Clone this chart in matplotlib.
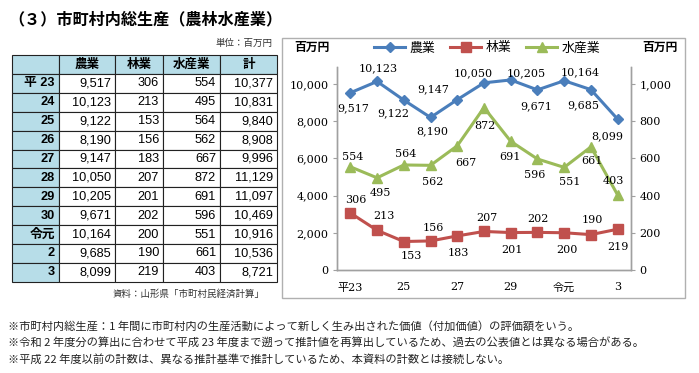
import matplotlib.pyplot as plt
from matplotlib.patches import Rectangle

plt.rcParams['font.family'] = ['Noto Sans CJK JP', 'DejaVu Sans']

# Data
years = ["平 23", "24", "25", "26", "27", "28", "29", "30", "令元", "2", "3"]
x_labels = ["平23", "", "25", "", "27", "", "29", "", "令元", "", "3"]
agri = [9517, 10123, 9122, 8190, 9147, 10050, 10205, 9671, 10164, 9685, 8099]
forest = [306, 213, 153, 156, 183, 207, 201, 202, 200, 190, 219]
fish = [554, 495, 564, 562, 667, 872, 691, 596, 551, 661, 403]
total = [10377, 10831, 9840, 8908, 9996, 11129, 11097, 10469, 10916, 10536, 8721]
headers = ["", "農業", "林業", "水産業", "計"]

# label offsets in pixels (dx, dy up)
agri_off = [(3, -15), (1, 13), (-11, -13), (2, -14), (-24, 10), (-11, 10),
            (15, 7), (-1, -16), (16, 8), (-8, -16), (-10, -17)]
forest_off = [(5, 13), (7, 14), (8, -14), (3, 13), (1, -17), (3, 13),
              (1, -17), (0, 13), (3, -17), (1, 15), (0, -18)]
fish_off = [(2, 10), (3, -15), (2, 11), (2, -17), (9, -17), (1, -18),
            (-1, -16), (-3, -16), (6, -15), (1, -14), (-4, 14)]

W, H = 699, 373
fig = plt.figure(figsize=(W / 100, H / 100), dpi=100)

# background axes in pixel coordinates
bg = fig.add_axes([0, 0, 1, 1])
bg.set_xlim(0, W)
bg.set_ylim(H, 0)
bg.axis("off")

bg.text(8, 19, "（３）市町村内総生産（農林水産業）", fontsize=11.6, fontweight="bold",
        va="center", ha="left")
bg.text(272, 43, "単位：百万円", fontsize=6.8, va="center", ha="right", color="#333333")

# table
col_edges = [12, 59, 115, 163, 220, 277]
top, row_h = 55, 18.9
blue = "#b7dde8"
sans = ["Liberation Sans", "Noto Sans CJK JP"]
for r in range(len(years) + 1):
    y0 = top + r * row_h
    for c in range(5):
        x0, x1 = col_edges[c], col_edges[c + 1]
        face = blue if (r == 0 or c == 0) else "white"
        bg.add_patch(Rectangle((x0, y0), x1 - x0, row_h, facecolor=face,
                               edgecolor="#222222", lw=0.8))
        yc = y0 + row_h / 2
        if r == 0:
            bg.text((x0 + x1) / 2, yc, headers[c], fontsize=9, fontweight="bold",
                    ha="center", va="center")
        elif c == 0:
            bg.text(x1 - 4, yc, years[r - 1], fontsize=9.2, fontweight="bold",
                    ha="right", va="center", family=sans)
        else:
            vals = [agri, forest, fish, total][c - 1]
            bg.text(x1 - 4, yc, f"{vals[r - 1]:,}", fontsize=9.2,
                    ha="right", va="center", family=sans)

bg.text(265, 294, "資料：山形県「市町村民経済計算」", fontsize=6.8, ha="right", va="center",
        color="#333333")

# chart frame
bg.add_patch(Rectangle((282, 38), 685 - 282, 298 - 38, facecolor="none",
                       edgecolor="#b0b0b0", lw=1))
bg.text(312, 47, "百万円", fontsize=8.5, fontweight="bold", ha="center", va="center")
bg.text(660, 47, "百万円", fontsize=8.5, fontweight="bold", ha="center", va="center")

# footnotes
notes = [
    "※市町村内総生産：1 年間に市町村内の生産活動によって新しく生み出された価値（付加価値）の評価額をいう。",
    "※令和 2 年度分の算出に合わせて平成 23 年度まで遡って推計値を再算出しているため、過去の公表値とは異なる場合がある。",
    "※平成 22 年度以前の計数は、異なる推計基準で推計しているため、本資料の計数とは接続しない。",
]
for i, t in enumerate(notes):
    bg.text(8, 326 + i * 16.5, t, fontsize=8.1, ha="left", va="center", color="#222222")

# line chart
ax = fig.add_axes([337 / W, 1 - 270 / H, (631 - 337) / W, (270 - 67) / H])
ax2 = ax.twinx()
x = list(range(len(agri)))
c_agri, c_forest, c_fish = "#4a7ebb", "#c0504d", "#9bbb59"

serif = ["DejaVu Serif", "Noto Sans CJK JP"]
l1, = ax.plot(x, agri, color=c_agri, lw=2.2, marker="D", ms=5.5, label="農業")
l2, = ax2.plot(x, forest, color=c_forest, lw=2.2, marker="s", ms=6.5, label="林業")
l3, = ax2.plot(x, fish, color=c_fish, lw=2.2, marker="^", ms=7, label="水産業")

for xi, v, o in zip(x, agri, agri_off):
    ax.annotate(f"{v:,}", (xi, v), xytext=o, textcoords="offset pixels",
                ha="center", va="center", fontsize=8, family=serif)
for xi, v, o in zip(x, forest, forest_off):
    ax2.annotate(f"{v:,}", (xi, v), xytext=o, textcoords="offset pixels",
                 ha="center", va="center", fontsize=8, family=serif)
for xi, v, o in zip(x, fish, fish_off):
    ax2.annotate(f"{v:,}", (xi, v), xytext=o, textcoords="offset pixels",
                 ha="center", va="center", fontsize=8, family=serif)

ax.set_xlim(-0.5, len(x) - 0.5)
ax.set_ylim(0, 10900)
ax2.set_ylim(0, 1090)
ax.set_yticks(range(0, 10001, 2000))
ax.set_yticklabels([f"{v:,}" for v in range(0, 10001, 2000)], family=serif, fontsize=8)
ax2.set_yticks(range(0, 1001, 200))
ax2.set_yticklabels([f"{v:,}" for v in range(0, 1001, 200)], family=serif, fontsize=8)
ax.set_xticks(x)
ax.set_xticklabels(x_labels, family=serif, fontsize=8)
ax.tick_params(axis="x", length=0, pad=9)
ax.tick_params(axis="y", length=3, color="#a0a0a0", pad=3)
ax2.tick_params(axis="y", length=3, color="#a0a0a0", pad=3)

for a in (ax, ax2):
    a.patch.set_alpha(0)
    a.spines["top"].set_visible(False)
    for s in ("left", "right", "bottom"):
        a.spines[s].set_color("#a0a0a0")
        a.spines[s].set_linewidth(1)

fig.legend(handles=[l1, l2, l3], loc="center", bbox_to_anchor=(487 / W, 1 - 48 / H),
           ncol=3, frameon=False, fontsize=9.3, handlelength=2.4, columnspacing=1.2,
           handletextpad=0.3)

fig.savefig("out.png", dpi=100)
